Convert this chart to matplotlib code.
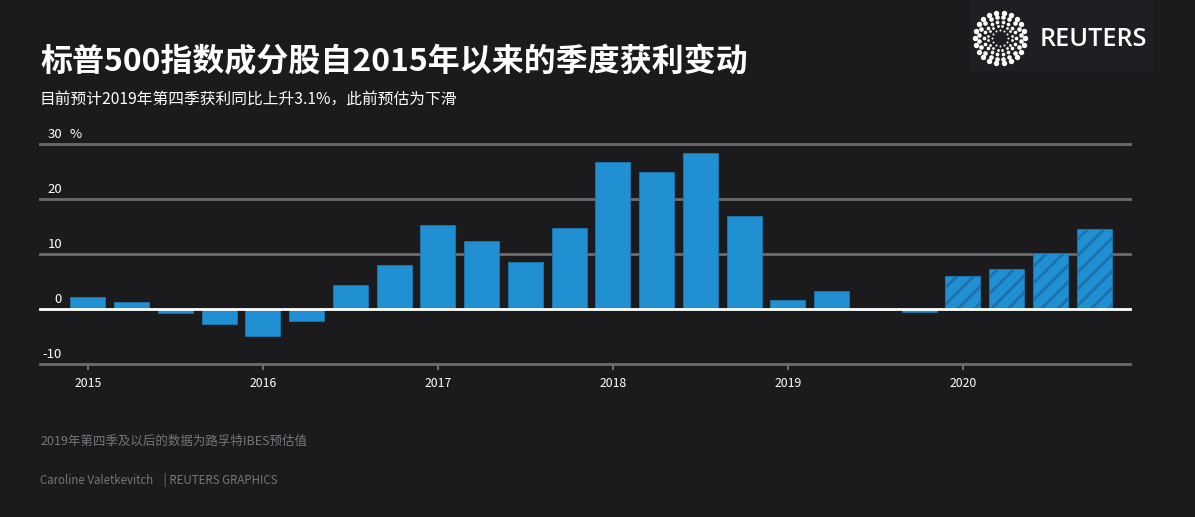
import matplotlib
matplotlib.use('Agg')
import matplotlib.pyplot as plt
import matplotlib.patches as mpatches
import numpy as np

plt.rcParams['font.family'] = ['Noto Sans CJK SC', 'DejaVu Sans']
plt.rcParams['hatch.linewidth'] = 2.0

# 数据：2015Q1 - 2020Q4 季度获利同比变动(%)
quarters = ['2015Q1', '2015Q2', '2015Q3', '2015Q4',
            '2016Q1', '2016Q2', '2016Q3', '2016Q4',
            '2017Q1', '2017Q2', '2017Q3', '2017Q4',
            '2018Q1', '2018Q2', '2018Q3', '2018Q4',
            '2019Q1', '2019Q2', '2019Q3', '2019Q4',
            '2020Q1', '2020Q2', '2020Q3', '2020Q4']
growth = [2.2, 1.3, -0.7, -2.8, -4.9, -2.2, 4.4, 8.0,
          15.3, 12.4, 8.5, 14.7, 26.7, 24.9, 28.4, 16.9,
          1.6, 3.3, -0.2, -0.5, 6.0, 7.3, 10.2, 14.5]
estimate = [False] * 20 + [True] * 4
years = ['2015', '2016', '2017', '2018', '2019', '2020']
yticks = [-10, 0, 10, 20, 30]

bg = '#1b1a1d'
blue = '#2190d2'
stripe = '#1a72ab'
grid_c = '#6c6b6e'

W, H = 1195, 517
fig = plt.figure(figsize=(W / 100, H / 100), dpi=100, facecolor=bg)

# 主图区域
ax = fig.add_axes([40 / W, 1 - 364 / H, 1090 / W, 220 / H])
ax.set_facecolor(bg)
x = np.arange(len(quarters))
for i in range(len(quarters)):
    if estimate[i]:
        ax.bar(x[i], growth[i], width=0.8, color=blue, edgecolor=stripe,
               hatch='//', linewidth=0.8, zorder=2)
    else:
        ax.bar(x[i], growth[i], width=0.8, color=blue, edgecolor='#1b78b2',
               linewidth=0.6, zorder=2)

for v in yticks:
    if v == 0:
        ax.axhline(0, color='white', lw=2, zorder=3, clip_on=False)
    else:
        ax.axhline(v, color=grid_c, lw=2, zorder=1, clip_on=False)
    ax.annotate(str(v), xy=(0, v), xycoords=('axes fraction', 'data'),
                xytext=(22, 3), textcoords='offset pixels', ha='right', va='bottom',
                color='white', fontsize=9.5)
ax.annotate('%', xy=(0, 30), xycoords=('axes fraction', 'data'),
            xytext=(30, 3), textcoords='offset pixels', ha='left', va='bottom',
            color='white', fontsize=9.5)

ax.set_xlim(-1.097, 23.82)
ax.set_ylim(-10, 30)
ax.set_xticks(np.arange(0, 24, 4))
ax.set_xticklabels(years, color='white', fontsize=8.8)
ax.tick_params(axis='x', length=4.5, width=1.5, color=grid_c, pad=5)
ax.set_yticks([])
for s in ax.spines.values():
    s.set_visible(False)

# 标题与说明
fig.text(40 / W, 1 - 62 / H, '标普500指数成分股自2015年以来的季度获利变动',
         color='white', fontsize=23, fontweight='bold', va='center', ha='left')
fig.text(40 / W, 1 - 99 / H, '目前预计2019年第四季获利同比上升3.1%，此前预估为下滑',
         color='white', fontsize=11.3, va='center', ha='left')
fig.text(40 / W, 1 - 441 / H, '2019年第四季及以后的数据为路孚特IBES预估值',
         color='#767579', fontsize=9, va='center', ha='left')
fig.text(40 / W, 1 - 480 / H, 'Caroline Valetkevitch    | REUTERS GRAPHICS',
         color='#767579', fontsize=8.3, va='center', ha='left')

# 路透社标志
fig.patches.append(mpatches.Rectangle((970 / W, 1 - 70 / H), 182 / W, 70 / H,
                                      transform=fig.transFigure, color='#1f1e22', zorder=-5))
lax = fig.add_axes([972 / W, 1 - 66 / H, 56 / W, 56 / H], zorder=5)
lax.set_xlim(-1.1, 1.1)
lax.set_ylim(-1.1, 1.1)
lax.axis('off')
for r, n, s, off in [(1.0, 22, 15, 0), (0.82, 20, 11, 0.5), (0.64, 18, 7, 0), (0.47, 16, 4, 0.5), (0.32, 12, 2, 0)]:
    a = (np.arange(n) + off) * 2 * np.pi / n
    lax.scatter(r * np.cos(a), r * np.sin(a), s=s, color='white', linewidths=0)
fig.text(1040 / W, 1 - 40 / H, 'REUTERS', color='white', fontsize=18.2,
         fontweight='semibold', va='center', ha='left', family=['Open Sans', 'DejaVu Sans'])

fig.savefig('out.png', dpi=100, facecolor=bg)
